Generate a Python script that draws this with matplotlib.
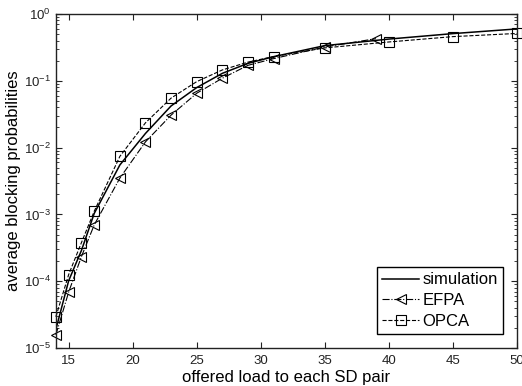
import matplotlib
matplotlib.use("Agg")
import matplotlib.pyplot as plt
from matplotlib.ticker import FixedLocator, LogLocator, NullFormatter

plt.rcParams['font.family'] = ['Liberation Sans', 'DejaVu Sans']
plt.rcParams['mathtext.fontset'] = 'custom'
plt.rcParams['mathtext.rm'] = 'Liberation Sans'
plt.rcParams['mathtext.it'] = 'Liberation Sans:italic'

# data
sim_x = [14, 15, 16, 17, 19, 21, 23, 25, 27, 29, 31, 35, 40, 45, 50]
sim_y = [1.9e-5, 1.02e-4, 2.9e-4, 1.04e-3, 5.5e-3, 0.0163, 0.042, 0.079,
         0.129, 0.182, 0.229, 0.335, 0.42, 0.507, 0.596]

efpa_x = [14, 15, 16, 17, 19, 21, 23, 25, 27, 29, 31, 35, 39]
efpa_y = [1.58e-5, 6.9e-5, 2.35e-4, 7.0e-4, 3.5e-3, 0.0122, 0.0306, 0.065,
          0.109, 0.17, 0.214, 0.32, 0.426]

opca_x = [14, 15, 16, 17, 19, 21, 23, 25, 27, 29, 31, 35, 40, 45, 50]
opca_y = [2.95e-5, 1.26e-4, 3.8e-4, 1.12e-3, 7.4e-3, 0.0235, 0.055, 0.097,
          0.145, 0.19, 0.23, 0.31, 0.38, 0.457, 0.51]

x_ticks = [15, 20, 25, 30, 35, 40, 45, 50]

fig = plt.figure(figsize=(5.22, 3.86), dpi=100)
ax = fig.add_axes([0.107, 0.098, 0.883, 0.866])

ax.plot(sim_x, sim_y, '-', color='black', lw=1.1, label='simulation')
ax.plot(efpa_x, efpa_y, '-.', color='black', lw=0.8, marker='<', ms=6.5,
        mfc='none', mec='black', mew=0.8, label='EFPA', clip_on=False)
ax.plot(opca_x, opca_y, '--', color='black', lw=0.8, marker='s', ms=6.5,
        mfc='none', mec='black', mew=0.8, label='OPCA', clip_on=False)

ax.set_yscale('log')
ax.set_xlim(14, 50)
ax.set_ylim(1e-5, 1)
ax.xaxis.set_major_locator(FixedLocator(x_ticks))
ax.yaxis.set_major_locator(LogLocator(base=10, numticks=10))
ax.yaxis.set_minor_locator(LogLocator(base=10, subs=range(2, 10), numticks=10))
ax.yaxis.set_minor_formatter(NullFormatter())

ax.tick_params(which='both', direction='in', top=True, right=True,
               labelsize=9.5, colors='#222222')
ax.tick_params(axis='x', pad=5)
ax.tick_params(which='major', length=4, width=0.8)
ax.tick_params(which='minor', length=2, width=0.6)
for s in ax.spines.values():
    s.set_linewidth(1.0)
    s.set_color('#222222')

ax.set_xlabel('offered load to each SD pair', fontsize=12, labelpad=2)
ax.set_ylabel('average blocking probabilities', fontsize=12, labelpad=2)

leg = ax.legend(loc='lower right', fontsize=12, frameon=True, fancybox=False,
                edgecolor='black', framealpha=1, handlelength=2.2,
                borderpad=0.3, labelspacing=0.35, handletextpad=0.2,
                borderaxespad=0.85)
leg.get_frame().set_linewidth(1.0)

fig.savefig('out.png', dpi=100)
